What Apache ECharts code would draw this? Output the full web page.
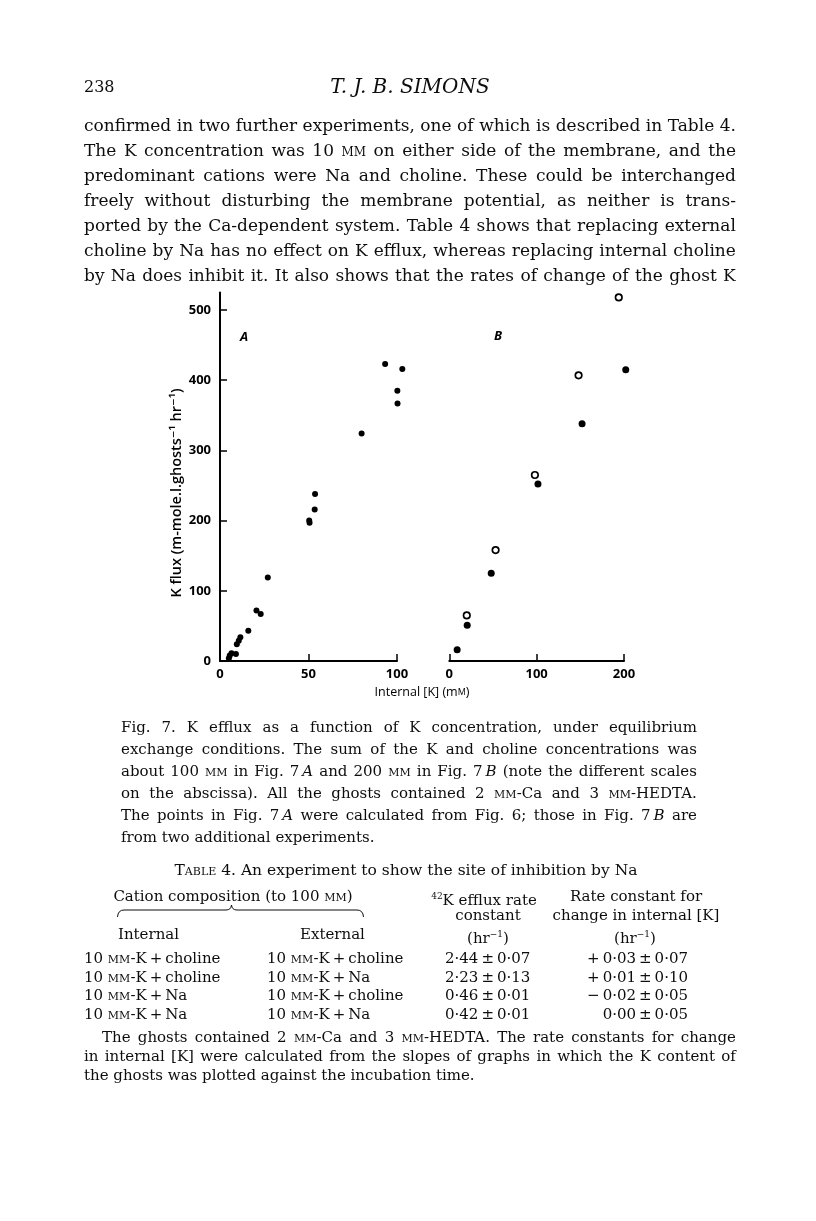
<!DOCTYPE html>
<html>
<head>
<meta charset="utf-8">
<style>
body { margin: 0; background: #fff; }
#page { position: relative; width: 816px; height: 1221px; overflow: hidden; font-family: "DejaVu Serif", serif; color: #0d0d0d; }
#container { position: absolute; left: 0; top: 0; width: 816px; height: 1221px; }
.ln { position: absolute; white-space: nowrap; }
.jt { display: flex; justify-content: space-between; }
.sc { font-variant: small-caps; }
</style>
</head>
<body>
<div id="page">
	<div id="container"></div>
	<div id="text"></div>
	<svg style="position:absolute;left:0;top:0" width="816" height="1221">
		<path d="M117.5 917 Q118 910 124 910 L226 910 Q231 910 231.5 905 Q232 910 237 910 L357 910 Q363 910 363.5 917" fill="none" stroke="#0d0d0d" stroke-width="1"/>
	</svg>
</div>
<script type="text/javascript" src="https://cdn.jsdelivr.net/npm/echarts@6.0.0/dist/echarts.min.js"></script>
<script type="text/javascript">
// fig 7 data
var fluxTicks = [0, 100, 200, 300, 400, 500];
var kTicksA = [0, 50, 100];
var kTicksB = [0, 100, 200];

// A: calculated from fig 6 (filled circles)
var kA =    [5, 5.5, 6.5, 9, 9.5, 10.6, 11.5, 16, 20.6, 23, 27, 50.4, 50.6, 53.5, 53.7, 80, 93.3, 100.2, 100.3, 103];
var fluxA = [4, 8, 11, 10, 24, 29, 34, 43, 72, 67, 119, 200, 197, 216, 238, 324, 423, 385, 367, 416];

// B: two extra experiments
var kBfilled =    [9, 20.5, 48, 101.5, 152, 202];
var fluxBfilled = [16, 51, 125, 252, 338, 415];
var kBopen =    [20, 53, 98, 148, 194];
var fluxBopen = [65, 158, 265, 407, 518];

function pairs(xs, ys) {
	var out = [];
	for (var i = 0; i < xs.length; i++) out.push([xs[i], ys[i]]);
	return out;
}

// page text
var ink = '#0d0d0d';
var box = document.getElementById('text');
function fmt(s) {
	return s.replace(/\{(.+?)\}/g, '<span class="sc">$1</span>').replace(/~(.+?)~/g, '<i>$1</i>');
}
function line(s, x, y, w, size, mode) {
	var d = document.createElement('div');
	var lh = Math.round(size * 1.3);
	d.className = 'ln';
	d.style.left = x + 'px';
	d.style.top = (y - lh / 2) + 'px';
	d.style.fontSize = size + 'px';
	d.style.lineHeight = lh + 'px';
	if (mode === 'j') {
		d.className += ' jt';
		d.style.width = w + 'px';
		d.innerHTML = s.split(' ').map(function (t) { return '<span>' + fmt(t) + '</span>'; }).join('');
	} else {
		if (w) { d.style.width = w + 'px'; }
		if (mode) { d.style.textAlign = mode; }
		d.innerHTML = fmt(s);
	}
	box.appendChild(d);
}

line('238', 84, 86, 0, 16);
line('~T. J. B. SIMONS~', 84, 86, 652, 20, 'center');

var body = [
	'confirmed in two further experiments, one of which is described in Table 4.',
	'The K concentration was 10 {mm} on either side of the membrane, and the',
	'predominant cations were Na and choline. These could be interchanged',
	'freely without disturbing the membrane potential, as neither is trans-',
	'ported by the Ca-dependent system. Table 4 shows that replacing external',
	'choline by Na has no effect on K efflux, whereas replacing internal choline',
	'by Na does inhibit it. It also shows that the rates of change of the ghost K'
];
body.forEach(function (s, i) { line(s, 84, 125 + i * 25, 652, 17, 'j'); });

var caption = [
	'Fig. 7. K efflux as a function of K concentration, under equilibrium',
	'exchange conditions. The sum of the K and choline concentrations was',
	'about 100 {mm} in Fig. 7\u2009~A~ and 200 {mm} in Fig. 7\u2009~B~ (note the different scales',
	'on the abscissa). All the ghosts contained 2 {mm}-Ca and 3 {mm}-HEDTA.',
	'The points in Fig. 7\u2009~A~ were calculated from Fig. 6; those in Fig. 7\u2009~B~ are'
];
caption.forEach(function (s, i) { line(s, 121, 727 + i * 22, 576, 15, 'j'); });
line('from two additional experiments.', 121, 727 + 5 * 22, 0, 15);

var tf = 15;
line('{Table} 4. An experiment to show the site of inhibition by Na', 84, 870, 644, 15.5, 'center');
line('Cation composition (to 100 {mm})', 100, 896, 266, tf, 'center');
line('<sup style="font-size:9px">42</sup>K efflux rate', 408, 896, 152, tf, 'center');
line('constant', 408, 915, 160, tf, 'center');
line('(hr<sup style="font-size:9px">\u22121</sup>)', 408, 934, 160, tf, 'center');
line('Rate constant for', 540, 896, 192, tf, 'center');
line('change in internal [K]', 540, 915, 192, tf, 'center');
line('(hr<sup style="font-size:9px">\u22121</sup>)', 540, 934, 190, tf, 'center');
line('Internal', 118, 934, 0, tf);
line('External', 300, 934, 0, tf);

var rowsInt = ['10 {mm}-K\u2009+\u2009choline', '10 {mm}-K\u2009+\u2009choline', '10 {mm}-K\u2009+\u2009Na', '10 {mm}-K\u2009+\u2009Na'];
var rowsExt = ['10 {mm}-K\u2009+\u2009choline', '10 {mm}-K\u2009+\u2009Na', '10 {mm}-K\u2009+\u2009choline', '10 {mm}-K\u2009+\u2009Na'];
var rowsEfflux = ['2\u00b744\u2009\u00b1\u20090\u00b707', '2\u00b723\u2009\u00b1\u20090\u00b713', '0\u00b746\u2009\u00b1\u20090\u00b701', '0\u00b742\u2009\u00b1\u20090\u00b701'];
var rowsChange = ['+\u20090\u00b703\u2009\u00b1\u20090\u00b707', '+\u20090\u00b701\u2009\u00b1\u20090\u00b710', '\u2212\u20090\u00b702\u2009\u00b1\u20090\u00b705', '0\u00b700\u2009\u00b1\u20090\u00b705'];
for (var r = 0; r < 4; r++) {
	var yy = 958 + r * 18.5;
	line(rowsInt[r], 84, yy, 0, tf);
	line(rowsExt[r], 267, yy, 0, tf);
	line(rowsEfflux[r], 445, yy, 0, tf);
	line(rowsChange[r], 550, yy, 138, tf, 'right');
}

line('The ghosts contained 2 {mm}-Ca and 3 {mm}-HEDTA. The rate constants for change', 102, 1037, 634, 15, 'j');
line('in internal [K] were calculated from the slopes of graphs in which the K content of', 84, 1056, 652, 15, 'j');
line('the ghosts was plotted against the incubation time.', 84, 1075, 0, 15);

// chart
var dom = document.getElementById('container');
var myChart = echarts.init(dom);
var sans = '"Open Sans", "DejaVu Sans", sans-serif';
var axisCommon = {
	type: 'value',
	axisLine: { show: true, lineStyle: { color: '#000', width: 2 } },
	splitLine: { show: false },
	axisLabel: { color: '#000', fontFamily: sans, fontWeight: 700, fontSize: 13, margin: 7 },
	axisTick: { show: true, inside: true, length: 7, lineStyle: { color: '#000', width: 1.5 } }
};
function axis(extra) {
	return echarts.util.merge(echarts.util.clone(axisCommon), extra, true);
}
var option = {
	animation: false,
	backgroundColor: 'transparent',
	grid: [
		{ left: 220, top: 292.5, width: 177, height: 368.5 },
		{ left: 449.3, top: 292.5, width: 174.7, height: 368.5 }
	],
	xAxis: [
		axis({ gridIndex: 0, min: 0, max: 100,
			axisTick: { customValues: kTicksA }, axisLabel: { customValues: kTicksA } }),
		axis({ gridIndex: 1, min: 0, max: 200,
			axisTick: { customValues: kTicksB }, axisLabel: { customValues: kTicksB } })
	],
	yAxis: [
		axis({ gridIndex: 0, min: 0, max: 525,
			axisTick: { customValues: fluxTicks }, axisLabel: { customValues: fluxTicks, margin: 9 } }),
		{ gridIndex: 1, type: 'value', min: 0, max: 525, show: false, splitLine: { show: false } }
	],
	graphic: [
		{ type: 'text', x: 177, y: 493, rotation: Math.PI / 2,
			style: { text: 'K flux (m-mole.l.ghosts\u207b\u00b9 hr\u207b\u00b9)', align: 'center', verticalAlign: 'middle',
				fill: '#000', font: '600 14.5px ' + sans } },
		{ type: 'text', x: 422, y: 692,
			style: { text: 'Internal [K] (m{sc|M})', align: 'center', verticalAlign: 'middle',
				fill: '#000', font: '500 12.5px ' + sans, rich: { sc: { fontSize: 9, fontFamily: sans, fill: '#000' } } } },
		{ type: 'text', x: 244, y: 337,
			style: { text: 'A', align: 'center', verticalAlign: 'middle', fill: '#000', font: 'italic 700 13px ' + sans } },
		{ type: 'text', x: 498, y: 336,
			style: { text: 'B', align: 'center', verticalAlign: 'middle', fill: '#000', font: 'italic 700 13px ' + sans } }
	],
	series: [
		{ name: 'A', type: 'scatter', xAxisIndex: 0, yAxisIndex: 0, clip: false,
			symbolSize: 6, itemStyle: { color: '#000', opacity: 1 }, data: pairs(kA, fluxA) },
		{ name: 'B filled', type: 'scatter', xAxisIndex: 1, yAxisIndex: 1, clip: false,
			symbolSize: 7, itemStyle: { color: '#000', opacity: 1 }, data: pairs(kBfilled, fluxBfilled) },
		{ name: 'B open', type: 'scatter', xAxisIndex: 1, yAxisIndex: 1, clip: false,
			symbolSize: 6.5, itemStyle: { color: '#fff', borderColor: '#000', borderWidth: 1.7, opacity: 1 }, data: pairs(kBopen, fluxBopen) }
	]
};
if (option && typeof option === "object") {
	myChart.setOption(option, true);
}
</script>
</body>
</html>
